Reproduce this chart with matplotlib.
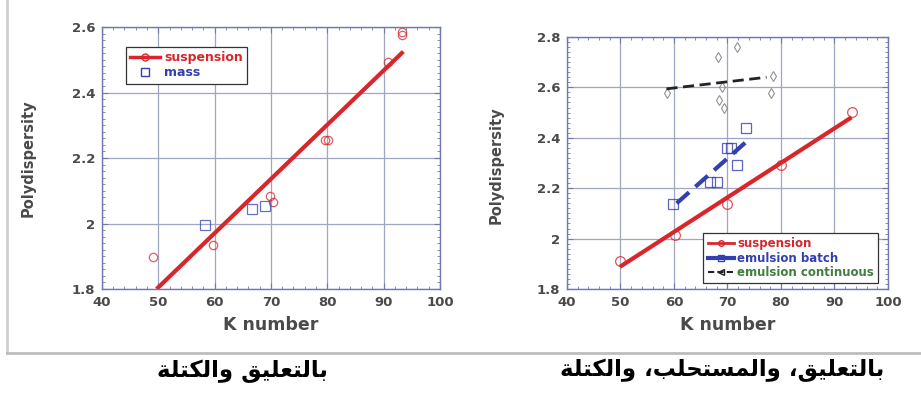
import numpy as np
import matplotlib.pyplot as plt
from matplotlib.ticker import MultipleLocator, FormatStrFormatter
from matplotlib.lines import Line2D

# --- suspension vs mass (left) ---
l_susp_k = [49.1, 59.8, 69.9, 70.4, 79.6, 80.1, 90.8, 93.2, 93.3]
l_susp_pd = [1.897, 1.934, 2.085, 2.065, 2.255, 2.255, 2.494, 2.575, 2.585]
l_mass_k = [58.3, 66.7, 68.9]
l_mass_pd = [1.995, 2.044, 2.054]
l_fit_k = [49.7, 93.5]
l_fit_pd = [1.80, 2.525]

# --- suspension, emulsion batch, emulsion continuous (right) ---
r_susp_k = [50.0, 60.2, 69.9, 80.1, 93.2]
r_susp_pd = [1.911, 2.014, 2.136, 2.29, 2.504]
r_susp_fit_k = [49.9, 93.2]
r_susp_fit_pd = [1.888, 2.481]

r_batch_k = [59.8, 66.7, 68.1, 69.9, 70.6, 71.7, 73.5]
r_batch_pd = [2.137, 2.224, 2.226, 2.361, 2.361, 2.29, 2.44]
r_batch_fit_k = [60.5, 73.3]
r_batch_fit_pd = [2.14, 2.38]

r_cont_k = [58.7, 68.3, 71.8, 68.9, 68.5, 69.3, 78.6, 78.1]
r_cont_pd = [2.577, 2.72, 2.76, 2.60, 2.55, 2.517, 2.645, 2.577]
r_cont_fit_k = [58.6, 77.3]
r_cont_fit_pd = [2.594, 2.64]

caption_left = "بالتعليق والكتلة"
caption_right = "بالتعليق، والمستحلب، والكتلة"

RED = '#d8262b'
BLUE = '#3340b0'
SPINE = '#7078b0'
GRIDC = '#a0a5c4'
TXT = '#4a4a4a'

# simple arabic shaping (presentation forms, visual order)
FORMS = {
    'ا': ('\uFE8D', '\uFE8E', None, None),
    'ب': ('\uFE8F', '\uFE90', '\uFE91', '\uFE92'),
    'ة': ('\uFE93', '\uFE94', None, None),
    'ت': ('\uFE95', '\uFE96', '\uFE97', '\uFE98'),
    'ح': ('\uFEA1', '\uFEA2', '\uFEA3', '\uFEA4'),
    'س': ('\uFEB1', '\uFEB2', '\uFEB3', '\uFEB4'),
    'ع': ('\uFEC9', '\uFECA', '\uFECB', '\uFECC'),
    'ق': ('\uFED5', '\uFED6', '\uFED7', '\uFED8'),
    'ك': ('\uFED9', '\uFEDA', '\uFEDB', '\uFEDC'),
    'ل': ('\uFEDD', '\uFEDE', '\uFEDF', '\uFEE0'),
    'م': ('\uFEE1', '\uFEE2', '\uFEE3', '\uFEE4'),
    'و': ('\uFEED', '\uFEEE', None, None),
    'ي': ('\uFEF1', '\uFEF2', '\uFEF3', '\uFEF4'),
}


def shape_arabic(text):
    out = []
    for i, c in enumerate(text):
        if c not in FORMS:
            out.append(c)
            continue
        prev = text[i - 1] if i > 0 else ''
        nxt = text[i + 1] if i + 1 < len(text) else ''
        join_prev = prev in FORMS and FORMS[prev][2] is not None
        join_next = FORMS[c][2] is not None and nxt in FORMS
        if join_prev and join_next:
            out.append(FORMS[c][3])
        elif join_prev:
            out.append(FORMS[c][1])
        elif join_next:
            out.append(FORMS[c][2])
        else:
            out.append(FORMS[c][0])
    return ''.join(reversed(out))


def style_axes(ax, ymin, ymax):
    ax.set_xlim(40, 100)
    ax.set_ylim(ymin, ymax)
    ax.xaxis.set_major_locator(MultipleLocator(10))
    ax.xaxis.set_minor_locator(MultipleLocator(2))
    ax.yaxis.set_major_locator(MultipleLocator(0.2))
    ax.yaxis.set_minor_locator(MultipleLocator(0.02))
    ax.yaxis.set_major_formatter(FormatStrFormatter('%g'))
    ax.tick_params(which='both', direction='in', top=True, right=True, color=SPINE)
    ax.tick_params(which='major', length=4, width=0.8, labelsize=9.5, labelcolor=TXT, pad=5)
    ax.tick_params(which='minor', length=2, width=0.6)
    for lab in ax.get_xticklabels() + ax.get_yticklabels():
        lab.set_fontweight('bold')
    for s in ax.spines.values():
        s.set_color(SPINE)
        s.set_linewidth(1.0)
    ax.grid(True, which='major', color=GRIDC, linewidth=0.9)
    ax.set_axisbelow(True)
    ax.set_xlabel('K number', fontsize=12.5, fontweight='bold', color=TXT, labelpad=5)
    ax.set_ylabel('Polydispersity', fontsize=10.5, fontweight='bold', color=TXT, labelpad=10)


fig = plt.figure(figsize=(9.21, 3.97), dpi=100)

# left panel
ax1 = fig.add_axes([0.1107, 0.272, 0.367, 0.660])
style_axes(ax1, 1.8, 2.6)
ax1.plot(l_susp_k, l_susp_pd, 'o', ms=6, mfc='none', mec=RED, mew=0.9, alpha=0.75)
ax1.plot(l_mass_k, l_mass_pd, 's', ms=6.5, mfc='none', mec=BLUE, mew=0.9, alpha=0.75)
ax1.plot(l_fit_k, l_fit_pd, '-', color=RED, lw=3, solid_capstyle='butt')
h1 = [Line2D([], [], color=RED, lw=2.5, marker='o', ms=5, mfc='none', mec=RED),
      Line2D([], [], ls='none', marker='s', ms=5.5, mfc='none', mec=BLUE)]
leg1 = ax1.legend(h1, ['suspension', 'mass'], loc='upper left', bbox_to_anchor=(0.071, 0.924),
                  borderaxespad=0, fancybox=False, edgecolor='#333333', framealpha=1,
                  prop={'weight': 'bold', 'size': 9}, handlelength=2.4, handletextpad=0.3,
                  labelspacing=0.15, borderpad=0.35)
leg1.get_frame().set_linewidth(0.9)
for t, c in zip(leg1.get_texts(), [RED, BLUE]):
    t.set_color(c)

# right panel
ax2 = fig.add_axes([0.6156, 0.272, 0.3485, 0.635])
style_axes(ax2, 1.8, 2.8)
ax2.plot(r_cont_k, r_cont_pd, 'd', ms=5.5, mfc='none', mec='#777777', mew=0.8, alpha=0.8)
ax2.plot(r_batch_k, r_batch_pd, 's', ms=7, mfc='none', mec=BLUE, mew=0.9, alpha=0.8)
ax2.plot(r_susp_k, r_susp_pd, 'o', ms=7, mfc='none', mec=RED, mew=0.9, alpha=0.8)
ax2.plot(r_susp_fit_k, r_susp_fit_pd, '-', color=RED, lw=3, solid_capstyle='butt')
ax2.plot(r_batch_fit_k, r_batch_fit_pd, '--', color=BLUE, lw=3, dashes=(4, 2))
ax2.plot(r_cont_fit_k, r_cont_fit_pd, '--', color='#222222', lw=2, dashes=(4, 2))
h2 = [Line2D([], [], color=RED, lw=2, marker='o', ms=4, mfc='none', mec=RED),
      Line2D([], [], color=BLUE, lw=3, marker='s', ms=4, mfc='none', mec=BLUE),
      Line2D([], [], color='#222222', lw=1.5, ls='--', dashes=(3, 1.5), marker='<', ms=4, mfc='none')]
leg2 = ax2.legend(h2, ['suspension', 'emulsion batch', 'emulsion continuous'], loc='lower right',
                  bbox_to_anchor=(0.969, 0.024), borderaxespad=0, fancybox=False,
                  edgecolor='#333333', framealpha=1, prop={'weight': 'bold', 'size': 8.5},
                  handlelength=2.2, handletextpad=0.3, labelspacing=0.1, borderpad=0.35)
leg2.get_frame().set_linewidth(0.9)
for t, c in zip(leg2.get_texts(), [RED, BLUE, '#3f7f3f']):
    t.set_color(c)

ax1.yaxis.set_label_coords(-0.195, 0.5)
ax2.yaxis.set_label_coords(-0.198, 0.49)

# light frame around the figure panels
fig.add_artist(Line2D([7 / 921, 7 / 921], [1 - 353 / 397, 1.0], color='#cfcfcf', lw=2))
fig.add_artist(Line2D([7 / 921, 1.0], [1 - 353 / 397, 1 - 353 / 397], color='#bdbdbd', lw=2))

# arabic captions
fig.text(242 / 921, 1 - 371 / 397, shape_arabic(caption_left), ha='center', va='center',
         fontsize=16.5, fontweight='bold', family='DejaVu Sans')
fig.text(722 / 921, 1 - 370 / 397, shape_arabic(caption_right), ha='center', va='center',
         fontsize=16.5, fontweight='bold', family='DejaVu Sans')

fig.savefig('out.png', dpi=100)
